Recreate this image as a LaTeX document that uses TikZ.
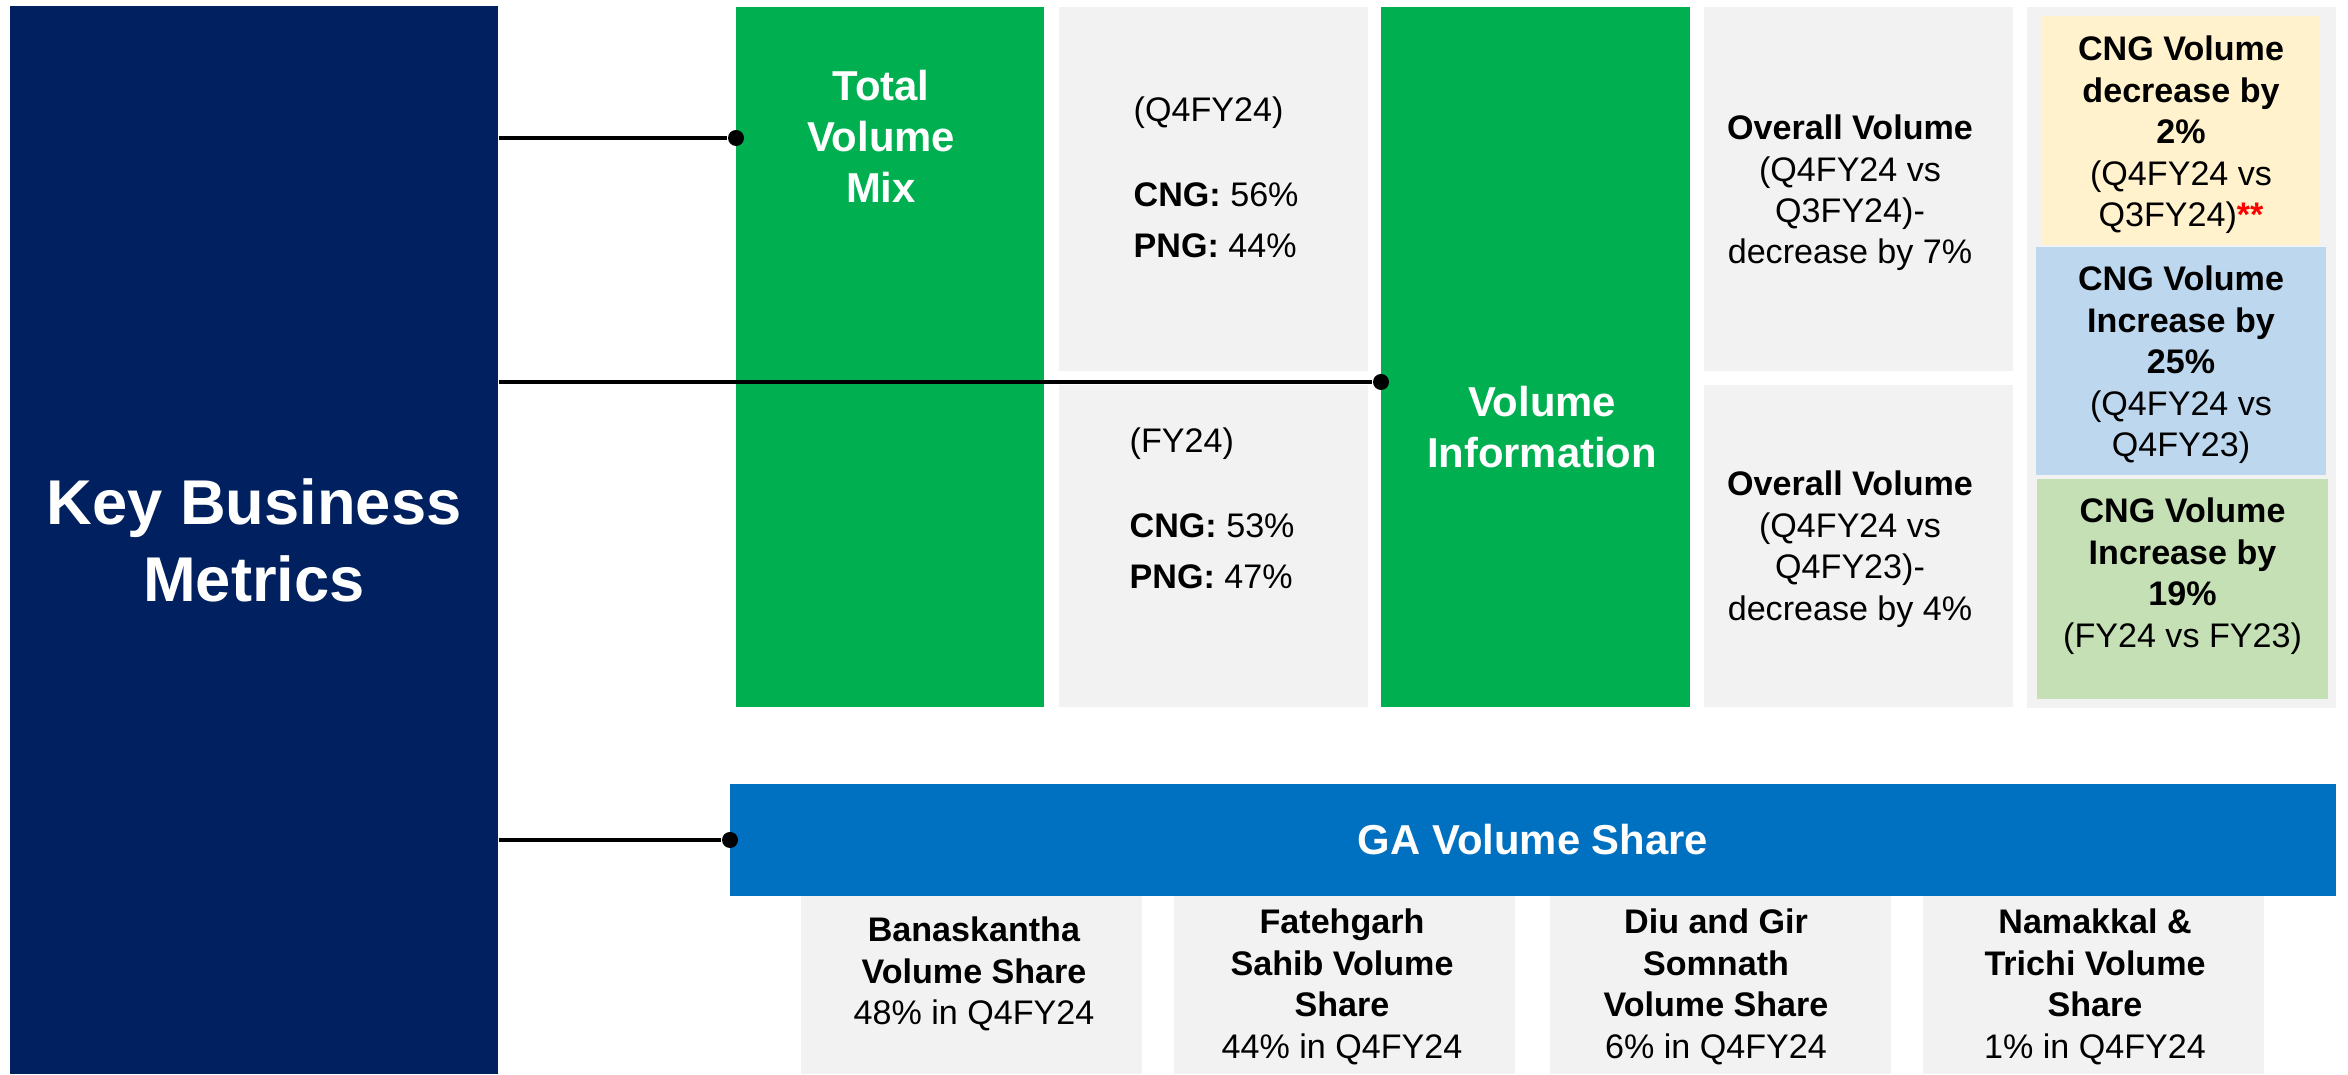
\documentclass[tikz,border=0pt]{standalone}
\usepackage{fontspec}
\setmainfont{Liberation Sans}
\definecolor{kbnavy}{HTML}{002060}
\definecolor{kbgreen}{HTML}{00B050}
\definecolor{kbblue}{HTML}{0070C0}
\definecolor{kbgrey}{HTML}{F2F2F2}
\definecolor{kbyellow}{HTML}{FFF2CC}
\definecolor{kbsky}{HTML}{BDD7EE}
\definecolor{kbmint}{HTML}{C5E0B4}
\tikzstyle{bx}=[rectangle,inner sep=0pt,align=center,font=\fontsize{9.7}{11.8}\selectfont]
\tikzstyle{hd}=[inner sep=0pt,align=center,text=white,font=\fontsize{11.9}{14.5}\selectfont\bfseries]
\tikzstyle{tx}=[inner sep=0pt,font=\fontsize{9.7}{11.8}\selectfont]
\tikzstyle{conn}=[line width=1pt]
\tikzstyle{dot}=[circle,fill=black,inner sep=0pt,minimum size=1.6mm]

\begin{document}
\begin{tikzpicture}
\useasboundingbox (0,0) rectangle (23.48,10.75);
\node[bx,fill=kbnavy,minimum width=4.88cm,minimum height=10.68cm,text=white,font=\fontsize{18}{21.9}\selectfont\bfseries] (kbm) at (2.54,5.35) {Key Business\\Metrics};
\node[bx,fill=kbgreen,minimum width=3.08cm,minimum height=7cm] (tvm) at (8.90,7.18) {};
\node[hd] (tvmtxt) at (8.81,9.39) {Total\\Volume\\Mix};
\node[bx,fill=kbgrey,minimum width=3.09cm,minimum height=3.64cm] (q4) at (12.135,8.86) {};
\node[bx,fill=kbgrey,minimum width=3.09cm,minimum height=3.22cm] (fy) at (12.135,5.29) {};
\node[tx,align=left,anchor=west] (q4txt) at (11.33,8.975) {(Q4FY24)\\[12.4pt]\textbf{CNG:} 56\%\\[2.7pt]\textbf{PNG:} 44\%};
\node[tx,align=left,anchor=west] (fytxt) at (11.29,5.665) {(FY24)\\[12.4pt]\textbf{CNG:} 53\%\\[2.7pt]\textbf{PNG:} 47\%};
\node[bx,fill=kbgreen,minimum width=3.09cm,minimum height=7cm] (vi) at (15.355,7.18) {};
\node[hd] (vitxt) at (15.42,6.48) {Volume\\Information};
\node[bx,fill=kbgrey,minimum width=3.09cm,minimum height=3.64cm] (ov1) at (18.585,8.86) {};
\node[tx,align=center] (ov1txt) at (18.50,8.82) {\textbf{Overall Volume}\\(Q4FY24 vs\\Q3FY24)-\\decrease by 7\%};
\node[bx,fill=kbgrey,minimum width=3.09cm,minimum height=3.22cm] (ov2) at (18.585,5.29) {};
\node[tx,align=center] (ov2txt) at (18.50,5.26) {\textbf{Overall Volume}\\(Q4FY24 vs\\Q4FY23)-\\decrease by 4\%};
\node[bx,fill=kbgrey,minimum width=3.09cm,minimum height=7.01cm] (panel) at (21.815,7.175) {};
\node[bx,fill=kbyellow,minimum width=2.78cm,minimum height=2.29cm] (cng1) at (21.81,9.445) {};
\node[tx,align=center] (cng1txt) at (21.81,9.40) {\textbf{CNG Volume}\\\textbf{decrease by}\\\textbf{2\%}\\(Q4FY24 vs\\Q3FY24)\textbf{\textcolor{red}{**}}};
\node[bx,fill=kbsky,minimum width=2.90cm,minimum height=2.28cm] (cng2) at (21.81,7.14) {};
\node[tx,align=center] (cng2txt) at (21.81,7.10) {\textbf{CNG Volume}\\\textbf{Increase by}\\\textbf{25\%}\\(Q4FY24 vs\\Q4FY23)};
\node[bx,fill=kbmint,minimum width=2.91cm,minimum height=2.20cm] (cng3) at (21.825,4.86) {};
\node[tx,align=center] (cng3txt) at (21.825,4.99) {\textbf{CNG Volume}\\\textbf{Increase by}\\\textbf{19\%}\\(FY24 vs FY23)};
\node[bx,fill=kbblue,minimum width=16.06cm,minimum height=1.12cm,text=white,font=\fontsize{11.9}{14.5}\selectfont\bfseries] (ga) at (15.33,2.35) {GA Volume Share};
\node[bx,fill=kbgrey,minimum width=3.41cm,minimum height=1.78cm] (ban) at (9.715,0.90) {};
\node[tx,align=center] (bantxt) at (9.74,1.01) {\textbf{Banaskantha}\\\textbf{Volume Share}\\48\% in Q4FY24};
\node[bx,fill=kbgrey,minimum width=3.41cm,minimum height=1.78cm] (fat) at (13.445,0.90) {};
\node[tx,align=center] (fattxt) at (13.42,0.88) {\textbf{Fatehgarh}\\\textbf{Sahib Volume}\\\textbf{Share}\\44\% in Q4FY24};
\node[bx,fill=kbgrey,minimum width=3.41cm,minimum height=1.78cm] (diu) at (17.20,0.90) {};
\node[tx,align=center] (diutxt) at (17.16,0.88) {\textbf{Diu and Gir}\\\textbf{Somnath}\\\textbf{Volume Share}\\6\% in Q4FY24};
\node[bx,fill=kbgrey,minimum width=3.41cm,minimum height=1.78cm] (nam) at (20.935,0.90) {};
\node[tx,align=center] (namtxt) at (20.95,0.88) {\textbf{Namakkal \&}\\\textbf{Trichi Volume}\\\textbf{Share}\\1\% in Q4FY24};
\node[dot] (d1) at (7.36,9.37) {};
\node[dot] (d2) at (13.81,6.93) {};
\node[dot] (d3) at (7.30,2.35) {};
\draw[conn] (kbm.east |- d1) -- (d1);
\draw[conn] (kbm.east |- d2) -- (d2);
\draw[conn] (kbm.east |- d3) -- (d3);
\end{tikzpicture}
\end{document}
